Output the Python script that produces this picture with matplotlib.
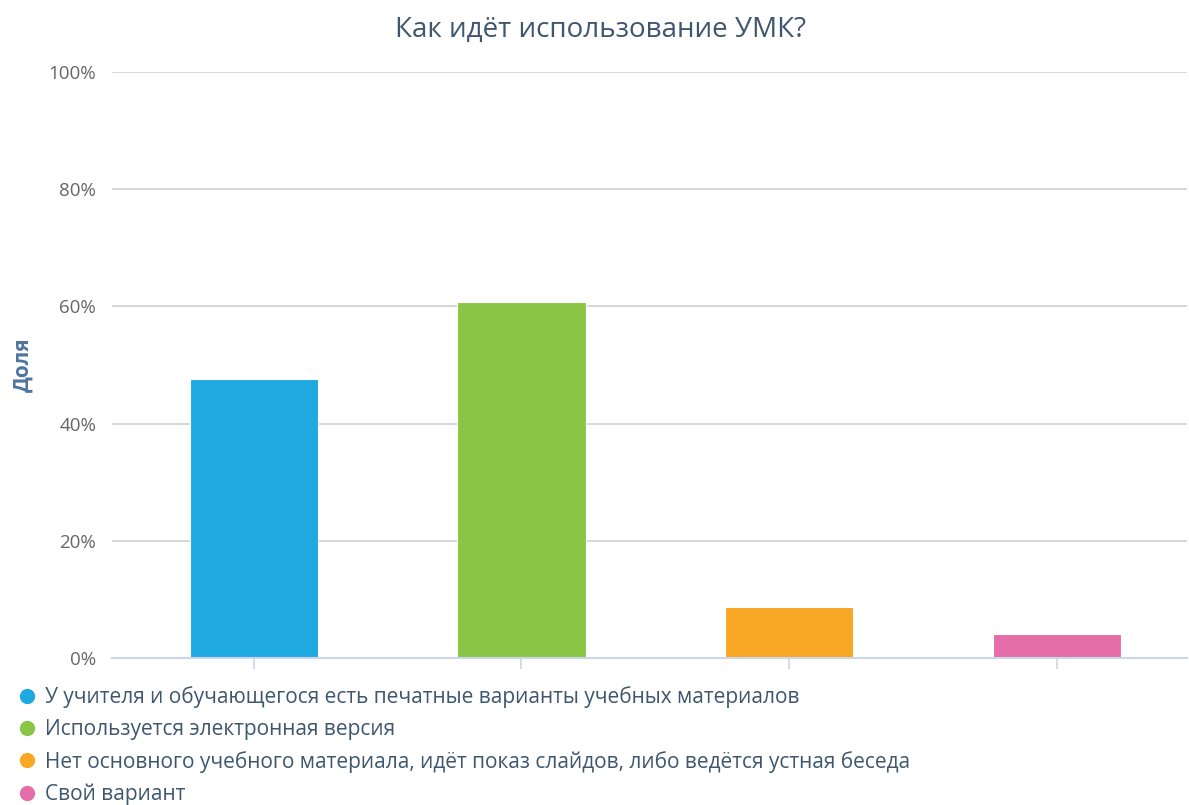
import matplotlib
matplotlib.use("Agg")
import matplotlib.pyplot as plt
from matplotlib.lines import Line2D
from matplotlib.ticker import PercentFormatter

plt.rcParams['font.family'] = ['Open Sans', 'DejaVu Sans']

# data
categories = [
    "У учителя и обучающегося есть печатные варианты учебных материалов",
    "Используется электронная версия",
    "Нет основного учебного материала, идёт показ слайдов, либо ведётся устная беседа",
    "Свой вариант",
]
values = [47.6, 60.8, 8.7, 4.1]
colors = ["#1fa9e1", "#8bc546", "#f9a825", "#e56ea8"]
yticks = [0, 20, 40, 60, 80, 100]

fig = plt.figure(figsize=(11.89, 8.05), dpi=100)
ax = fig.add_axes([0.0942, 0.1826, 0.904, 0.728])

x = list(range(len(values)))
ax.bar(x, values, width=0.48, color=colors, edgecolor="white", linewidth=0.8, zorder=3)

ax.set_xlim(-0.53, len(values) - 0.514)
ax.set_ylim(0, 100)
ax.set_yticks(yticks)
ax.yaxis.set_major_formatter(PercentFormatter(decimals=0))
ax.grid(axis="y", color="#d0d0d0", linewidth=1.2, zorder=0)

for s in ["top", "right", "left"]:
    ax.spines[s].set_visible(False)
ax.spines["bottom"].set_color("#ccd6eb")
ax.spines["bottom"].set_linewidth(1.5)
ax.spines["bottom"].set_zorder(4)

ax.set_xticks(x)
ax.set_xticklabels([])
ax.tick_params(axis="x", length=8, width=1.2, color="#ccd6eb")
ax.tick_params(axis="y", length=0, pad=11.5, labelsize=13.5, labelcolor="#666666")

ax.set_ylabel("Доля", fontsize=15, fontweight="bold", color="#4d759e", labelpad=11)

fig.text(0.505, 0.963, "Как идёт использование УМК?", ha="center", va="center",
         fontsize=20, color="#3e576f")

handles = [Line2D([], [], marker="o", linestyle="", markersize=10, color=c) for c in colors]
fig.legend(handles, categories, loc="upper left", bbox_to_anchor=(0.0052, 0.158),
           frameon=False, fontsize=15, labelcolor="#3e576f", handletextpad=0.25,
           labelspacing=0.52, borderaxespad=0, handlelength=1.2)

fig.savefig("out.png", dpi=100)
